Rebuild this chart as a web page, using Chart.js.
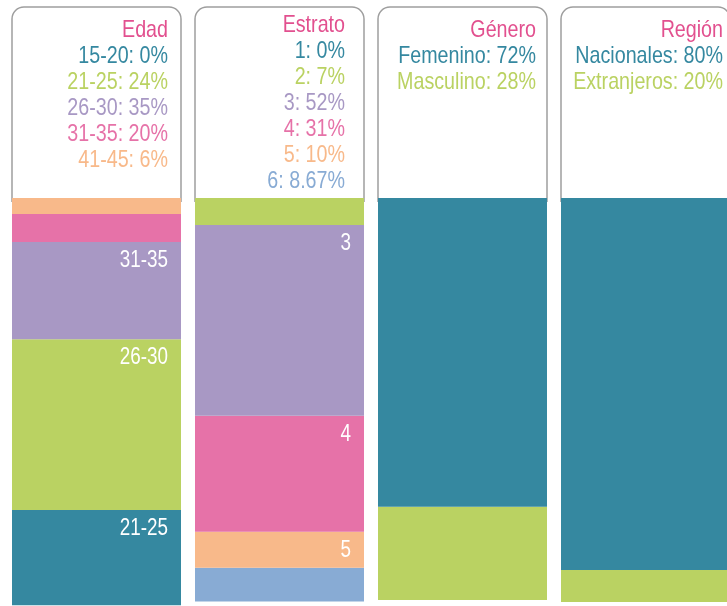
<!DOCTYPE html>
<html>
<head>
<meta charset="utf-8">
<script src="https://cdn.jsdelivr.net/npm/chart.js@4"></script>
<style>
    html, body { margin: 0; padding: 0; background: #fff; overflow: hidden; }
    #wrap { position: relative; width: 742px; height: 606px; }
</style>
</head>
<body>
<div id="wrap"><canvas id="chart" width="742" height="606"></canvas></div>
<script>
// Columns and their legend texts
const columns = ['Edad', 'Estrato', 'Género', 'Región'];
const edadLegend = ['15-20: 0%', '21-25: 24%', '26-30: 35%', '31-35: 20%', '41-45: 6%'];
const estratoLegend = ['1: 0%', '2: 7%', '3: 52%', '4: 31%', '5: 10%', '6: 8.67%'];
const generoLegend = ['Femenino: 72%', 'Masculino: 28%'];
const regionLegend = ['Nacionales: 80%', 'Extranjeros: 20%'];

// Segment heights as drawn (share of the bar axis, top to bottom)
const edadSegments = [3.9, 6.9, 23.8, 41.9, 23.3];
const estratoSegments = [6.6, 46.8, 28.4, 8.8, 8.3];
const generoSegments = [75.7, 22.8];
const regionSegments = [91.2, 7.8];

// Labels written inside the segments
const edadSegLabels = ['', '', '31-35', '26-30', '21-25'];
const estratoSegLabels = ['', '3', '4', '5', ''];
const generoSegLabels = ['', ''];
const regionSegLabels = ['', ''];

// Colours
const C = {
    teal: '#3588a0',
    green: '#bad262',
    purple: '#a898c4',
    pink: '#e672a8',
    orange: '#f8b98a',
    blue: '#88abd4',
    title: '#e2508f',
    box: '#9e9e9e'
};
const edadLegendColors = [C.teal, C.green, C.purple, C.pink, C.orange];
const estratoLegendColors = [C.teal, C.green, C.purple, C.pink, C.orange, C.blue];
const generoLegendColors = [C.teal, C.green];
const regionLegendColors = [C.teal, C.green];
const edadSegColors = [C.orange, C.pink, C.purple, C.green, C.teal];
const estratoSegColors = [C.green, C.purple, C.pink, C.orange, C.blue];
const generoSegColors = [C.teal, C.green];
const regionSegColors = [C.teal, C.green];

const allSegments = [edadSegments, estratoSegments, generoSegments, regionSegments];
const allSegLabels = [edadSegLabels, estratoSegLabels, generoSegLabels, regionSegLabels];
const allSegColors = [edadSegColors, estratoSegColors, generoSegColors, regionSegColors];
const allLegends = [edadLegend, estratoLegend, generoLegend, regionLegend];
const allLegendColors = [edadLegendColors, estratoLegendColors, generoLegendColors, regionLegendColors];

const FONT = '24px "Liberation Sans", Arial, sans-serif';
const LABEL_FONT = '23px "Liberation Sans", Arial, sans-serif';
const NARROW = 0.82; // squeeze Arial into Arial Narrow proportions

// right-aligned, horizontally condensed text
function narrowText(ctx, txt, xRight, y) {
    ctx.save();
    ctx.translate(xRight, y);
    ctx.scale(NARROW, 1);
    ctx.textAlign = 'right';
    ctx.textBaseline = 'alphabetic';
    ctx.fillText(txt, 0, 0);
    ctx.restore();
}

// one dataset per stacking level
const levels = Math.max(...allSegments.map(s => s.length));
const datasets = [];
for (let l = 0; l < levels; l++) {
    datasets.push({
        data: allSegments.map(s => s[l] !== undefined ? s[l] : null),
        backgroundColor: allSegColors.map(c => c[l] || 'transparent'),
        segLabels: allSegLabels.map(s => s[l] || ''),
        borderWidth: 0,
        barPercentage: 169 / 183,
        categoryPercentage: 1
    });
}

// rounded legend boxes behind the bars
const boxPlugin = {
    id: 'legendBoxes',
    beforeDatasetsDraw(chart) {
        const ctx = chart.ctx;
        const meta = chart.getDatasetMeta(0);
        const padRight = [13, 19, 11, 7];
        ctx.save();
        meta.data.forEach((bar, i) => {
            const left = bar.x - bar.width / 2;
            const right = bar.x + bar.width / 2;
            const top = 7, bottom = 202, r = 12;
            ctx.beginPath();
            ctx.moveTo(left, bottom);
            ctx.lineTo(left, top + r);
            ctx.arcTo(left, top, left + r, top, r);
            ctx.lineTo(right - r, top);
            ctx.arcTo(right, top, right, top + r, r);
            ctx.lineTo(right, bottom);
            ctx.strokeStyle = C.box;
            ctx.lineWidth = 1.5;
            ctx.stroke();

            const lines = [columns[i]].concat(allLegends[i]);
            const colors = [C.title].concat(allLegendColors[i]);
            const start = lines.length > 6 ? 32 : 37;
            ctx.font = FONT;
            lines.forEach((t, k) => {
                ctx.fillStyle = colors[k];
                narrowText(ctx, t, right - padRight[i], start + k * 26);
            });
        });
        ctx.restore();
    },
    afterDatasetsDraw(chart) {
        const ctx = chart.ctx;
        ctx.save();
        ctx.font = LABEL_FONT;
        ctx.fillStyle = '#ffffff';
        chart.data.datasets.forEach((ds, d) => {
            chart.getDatasetMeta(d).data.forEach((bar, i) => {
                const txt = ds.segLabels[i];
                if (!txt) return;
                const top = Math.min(bar.y, bar.base);
                narrowText(ctx, txt, bar.x + bar.width / 2 - 13, top + 25);
            });
        });
        ctx.restore();
    }
};

new Chart(document.getElementById('chart').getContext('2d'), {
    type: 'bar',
    data: { labels: columns, datasets: datasets },
    options: {
        responsive: false,
        animation: false,
        layout: { padding: { top: 198, bottom: 0, left: 5, right: 5 } },
        scales: {
            x: { stacked: true, display: false },
            y: { stacked: true, display: false, reverse: true, min: 0, max: 100 }
        },
        plugins: {
            legend: { display: false },
            tooltip: { enabled: false }
        }
    },
    plugins: [boxPlugin]
});
</script>
</body>
</html>
